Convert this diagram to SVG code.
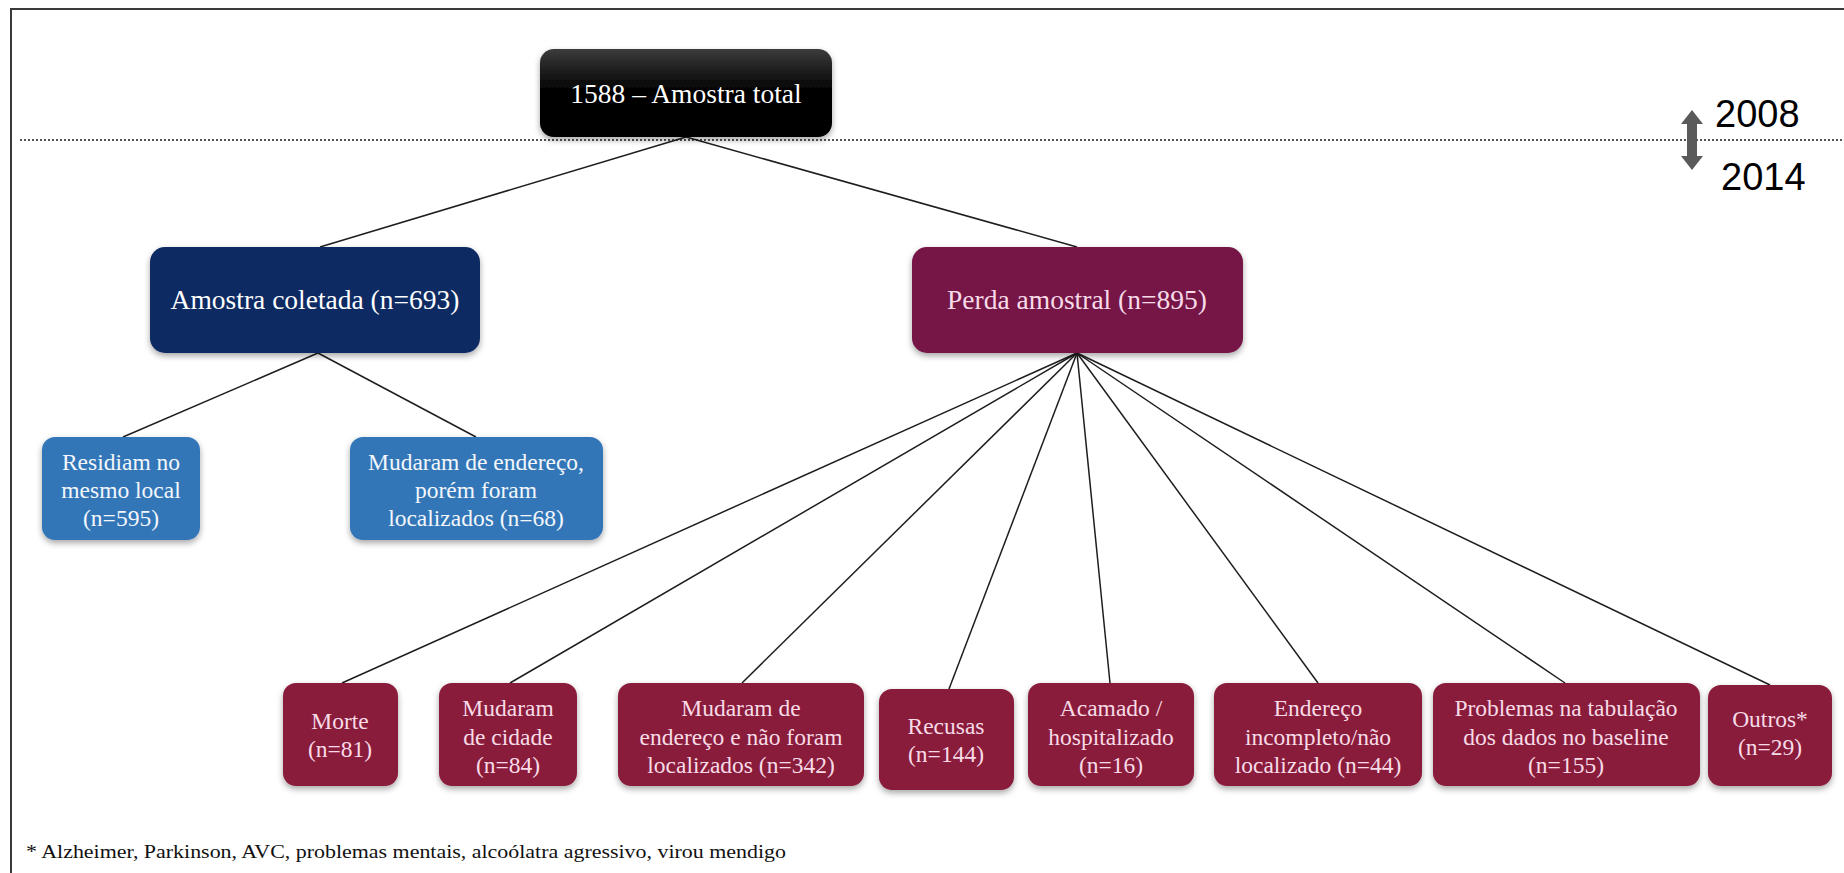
<svg xmlns="http://www.w3.org/2000/svg" width="1844" height="873" viewBox="0 0 1844 873">
<defs>
<linearGradient id="gBlack" x1="0" y1="0" x2="0" y2="1">
<stop offset="0" stop-color="#3c3c3c"/>
<stop offset="0.45" stop-color="#050505"/>
<stop offset="1" stop-color="#000"/>
</linearGradient>
<filter id="sh" x="-10%" y="-10%" width="120%" height="130%">
<feDropShadow dx="0" dy="3" stdDeviation="3" flood-color="#000" flood-opacity="0.35"/>
</filter>
<marker id="ah" viewBox="0 0 10 10" refX="5" refY="5" markerWidth="4" markerHeight="4" orient="auto"><path d="M0,0 L10,5 L0,10 z" fill="#5a5a5a"/></marker>
<style>
.t{font-family:"Liberation Serif","Times New Roman",serif;text-anchor:middle}
.big{font-size:27.5px}
.sm{font-size:23.5px}
.w{fill:#ffffff}
.pk{fill:#f7dbe7}
.lbl{fill:#f3f6fb}
.yr{font-family:"Liberation Sans",Arial,sans-serif;font-size:38px;fill:#000}
.box{filter:url(#sh)}
.c{stroke:#1e1e1e;stroke-width:1.5;fill:none}
.navy{fill:#0e2a62}
.blue{fill:#3276b8}
.plum{fill:#741446}
.wine{fill:#8a1b3b}
</style>
</defs>
<rect x="0" y="0" width="1844" height="873" fill="#fff"/>
<rect x="11" y="9" width="1900" height="900" fill="none" stroke="#3a3a3a" stroke-width="2"/>
<line x1="20" y1="140" x2="1844" y2="140" stroke="#555" stroke-width="2" stroke-dasharray="2 2"/>

<g id="timeline">
<rect x="1687" y="122" width="10" height="36" fill="#5a5a5a"/>
<polygon points="1692,110 1703,124 1681,124" fill="#5a5a5a"/>
<polygon points="1692,170 1703,156 1681,156" fill="#5a5a5a"/>
<text class="yr" x="1715" y="127">2008</text>
<text class="yr" x="1721" y="190">2014</text>
</g>

<g id="connectors">
<line class="c" x1="686" y1="137" x2="320" y2="247"/>
<line class="c" x1="686" y1="137" x2="1077" y2="247"/>
<line class="c" x1="318" y1="353" x2="123" y2="437"/>
<line class="c" x1="318" y1="353" x2="476" y2="437"/>
<line class="c" x1="1077" y1="353" x2="342" y2="683"/>
<line class="c" x1="1077" y1="353" x2="510" y2="683"/>
<line class="c" x1="1077" y1="353" x2="742" y2="683"/>
<line class="c" x1="1077" y1="353" x2="949" y2="689"/>
<line class="c" x1="1077" y1="353" x2="1110" y2="683"/>
<line class="c" x1="1077" y1="353" x2="1318" y2="683"/>
<line class="c" x1="1077" y1="353" x2="1565" y2="683"/>
<line class="c" x1="1077" y1="353" x2="1770" y2="685"/>
</g>

<g id="n-total">
<rect class="box" x="540" y="49" width="292" height="88" rx="14" fill="url(#gBlack)"/>
<text class="t big w" x="686" y="103">1588 – Amostra total</text>
</g>

<g id="n-coletada">
<rect class="box navy" x="150" y="247" width="330" height="106" rx="15"/>
<text class="t big w" x="315" y="309">Amostra coletada (n=693)</text>
</g>

<g id="n-perda">
<rect class="box plum" x="912" y="247" width="331" height="106" rx="15"/>
<text class="t big pk" x="1077" y="309">Perda amostral (n=895)</text>
</g>

<g id="n-residiam">
<rect class="box blue" x="42" y="437" width="158" height="103" rx="13"/>
<text class="t sm lbl" x="121" y="470">Residiam no</text>
<text class="t sm lbl" x="121" y="498">mesmo local</text>
<text class="t sm lbl" x="121" y="526">(n=595)</text>
</g>

<g id="n-mudaram-localizados">
<rect class="box blue" x="350" y="437" width="253" height="103" rx="13"/>
<text class="t sm lbl" x="476" y="470">Mudaram de endereço,</text>
<text class="t sm lbl" x="476" y="498">porém foram</text>
<text class="t sm lbl" x="476" y="526">localizados (n=68)</text>
</g>

<g id="n-morte">
<rect class="box wine" x="283" y="683" width="115" height="103" rx="13"/>
<text class="t sm pk" x="340" y="729">Morte</text>
<text class="t sm pk" x="340" y="757">(n=81)</text>
</g>

<g id="n-cidade">
<rect class="box wine" x="439" y="683" width="138" height="103" rx="13"/>
<text class="t sm pk" x="508" y="716">Mudaram</text>
<text class="t sm pk" x="508" y="745">de cidade</text>
<text class="t sm pk" x="508" y="773">(n=84)</text>
</g>

<g id="n-nao-localizados">
<rect class="box wine" x="618" y="683" width="246" height="103" rx="13"/>
<text class="t sm pk" x="741" y="716">Mudaram de</text>
<text class="t sm pk" x="741" y="745">endereço e não foram</text>
<text class="t sm pk" x="741" y="773">localizados (n=342)</text>
</g>

<g id="n-recusas">
<rect class="box wine" x="879" y="689" width="135" height="101" rx="13"/>
<text class="t sm pk" x="946" y="734">Recusas</text>
<text class="t sm pk" x="946" y="762">(n=144)</text>
</g>

<g id="n-acamado">
<rect class="box wine" x="1028" y="683" width="166" height="103" rx="13"/>
<text class="t sm pk" x="1111" y="716">Acamado /</text>
<text class="t sm pk" x="1111" y="745">hospitalizado</text>
<text class="t sm pk" x="1111" y="773">(n=16)</text>
</g>

<g id="n-endereco">
<rect class="box wine" x="1214" y="683" width="208" height="103" rx="13"/>
<text class="t sm pk" x="1318" y="716">Endereço</text>
<text class="t sm pk" x="1318" y="745">incompleto/não</text>
<text class="t sm pk" x="1318" y="773">localizado (n=44)</text>
</g>

<g id="n-problemas">
<rect class="box wine" x="1433" y="683" width="267" height="103" rx="13"/>
<text class="t sm pk" x="1566" y="716">Problemas na tabulação</text>
<text class="t sm pk" x="1566" y="745">dos dados no baseline</text>
<text class="t sm pk" x="1566" y="773">(n=155)</text>
</g>

<g id="n-outros">
<rect class="box wine" x="1708" y="685" width="124" height="101" rx="13"/>
<text class="t sm pk" x="1770" y="727">Outros*</text>
<text class="t sm pk" x="1770" y="755">(n=29)</text>
</g>

<text x="26" y="858" font-family="Liberation Serif, Times New Roman, serif" font-size="19" fill="#111" textLength="760" lengthAdjust="spacingAndGlyphs">* Alzheimer, Parkinson, AVC, problemas mentais, alcoólatra agressivo, virou mendigo</text>
</svg>
